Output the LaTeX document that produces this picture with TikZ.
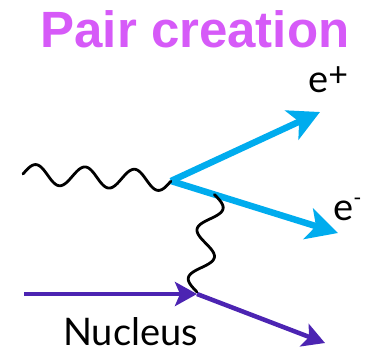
\documentclass[tikz,border=0pt]{standalone}
\usepackage{fontspec}
\setmainfont{Lato}
\newfontfamily\titlefont{Liberation Sans}
\usetikzlibrary{arrows.meta,calc}

\definecolor{titlepink}{RGB}{214,90,248}
\definecolor{lepton}{RGB}{0,172,238}
\definecolor{nucleon}{RGB}{76,36,178}

\tikzset{
  wave amp/.store in=\waveamp, wave amp=10,
  wave num/.store in=\wavenum, wave num=3,
}

\begin{document}
\begin{tikzpicture}[
    x=1pt, y=-1pt,
    font=\fontsize{38}{38}\selectfont,
    lbl/.style={anchor=base west, inner sep=0pt, text depth=0pt},
    electron/.style={-{Stealth[length=31pt,width=32pt,inset=8pt]}, line width=6.5pt, draw=lepton},
    nucleus/.style={-{Stealth[length=22pt,width=24pt,inset=5pt]}, line width=4.5pt, draw=nucleon},
    photon/.style={line width=2.8pt, line join=round, line cap=round,
      to path={let \p1=($(\tikztotarget)-(\tikztostart)$), \p2=(\tikztostart),
        \n1={veclen(\x1,\y1)} in
        plot[variable=\t, domain=0:1, samples=120, smooth]
        ({(\x2)+\t*(\x1)-(\y1)/\n1*\waveamp*sin(360*\wavenum*\t)},
         {(\y2)+\t*(\y1)+(\x1)/\n1*\waveamp*sin(360*\wavenum*\t)})}}
  ]
    \useasboundingbox (0,0) rectangle (366,348);

    % Title
    \node[font=\titlefont\fontsize{51}{51}\selectfont\bfseries, text=titlepink,
      anchor=base, inner sep=0pt] (title) at (195,47.5) {Pair creation};

    % Vertices and end points
    \coordinate (gS) at (23,174);
    \coordinate (pairV) at (171,181);
    \coordinate (ePlus) at (320,112);
    \coordinate (eMinus) at (338,233);
    \coordinate (xV) at ($(pairV)!0.26!(eMinus)$);
    \coordinate (nIn) at (24,294);
    \coordinate (nV) at (197,294);
    \coordinate (vE) at (197,292);
    \coordinate (nOut) at (325,343);

    % Electron and positron
    \draw[electron] (pairV) -- (ePlus);
    \draw[electron] (pairV) -- (eMinus);

    % Nucleus
    \draw[nucleus] (nIn) -- (nV);
    \draw[nucleus] (nV) -- (nOut);

    % Photons
    \draw[photon, wave num=3, wave amp=10] (gS) to (pairV);
    \draw[photon, wave num=2, wave amp=11] (xV) to (vE);

    % Labels
    \node[lbl] (ePlusLbl) at (308,92) {e\raisebox{6pt}{\fontsize{34}{34}\selectfont +}};
    \node[lbl] (eMinusLbl) at (333,220) {e\raisebox{15pt}{\fontsize{22}{22}\selectfont -}};
    \node[lbl] (nucLbl) at (63,345) {Nucleus};
\end{tikzpicture}
\end{document}
